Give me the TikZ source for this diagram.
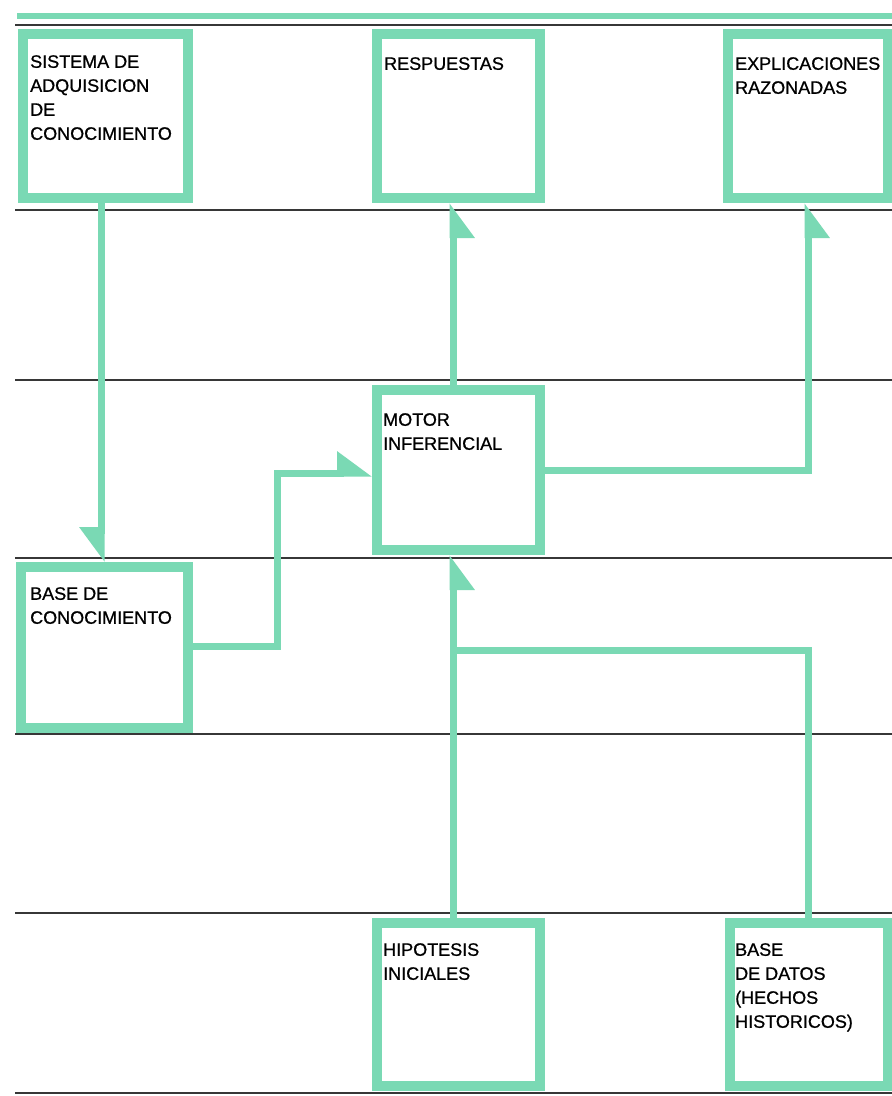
\documentclass[tikz,border=0pt]{standalone}
\usepackage{fontspec}
\setmainfont[FakeBold=0.8]{Liberation Sans}
\usetikzlibrary{arrows.meta,calc}
\definecolor{mint}{RGB}{122,217,180}
\definecolor{rulecol}{RGB}{55,55,55}
\begin{document}
\begin{tikzpicture}[x=1pt,y=-1pt,
  box/.style={draw=mint, line width=10pt, minimum width=163pt, minimum height=164pt, inner sep=0pt},
  lbl/.style={anchor=north west, inner sep=0pt, align=left, font=\fontsize{18}{24}\selectfont, text=black},
  conn/.style={draw=mint, line width=7pt, line join=miter},
  harr/.style={-{Triangle[harpoon, length=30pt, width=42pt]}},
  harrs/.style={-{Triangle[harpoon, swap, length=30pt, width=42pt]}},
  hrule/.style={draw=rulecol, line width=2pt}]
\useasboundingbox (0,0) rectangle (892,1096);
\fill[white] (0,0) rectangle (892,1096);
% horizontal rules
\foreach \yy in {25,210,380,558,734,913,1093} \draw[hrule] (15,\yy) -- (892,\yy);
\draw[mint, line width=6pt] (17,16) -- (892,16);
% boxes
\node[box, minimum width=165pt] (sis) at (105.5,116) {};
\node[box] (resp) at (458.5,116) {};
\node[box, minimum width=160pt] (expl) at (808,116) {};
\node[box, minimum height=160pt] (mot) at (458.5,470) {};
\node[box, minimum width=167pt, minimum height=161pt] (bk) at (104.5,647.5) {};
\node[box, minimum height=163pt] (hip) at (458.5,1004) {};
\node[box, minimum width=158pt, minimum height=163pt] (bd) at (809,1004) {};
% texts
\node[lbl] (sist) at (30,55) {SISTEMA DE\\ADQUISICION\\DE\\CONOCIMIENTO};
\node[lbl] (respt) at (384,57) {RESPUESTAS};
\node[lbl] (explt) at (735,57) {EXPLICACIONES\\RAZONADAS};
\node[lbl] (mott) at (383,413) {MOTOR\\INFERENCIAL};
\node[lbl] (bkt) at (30,587) {BASE DE\\CONOCIMIENTO};
\node[lbl] (hipt) at (383,943) {HIPOTESIS\\INICIALES};
\node[lbl] (bdt) at (735,943) {BASE\\DE DATOS\\(HECHOS\\HISTORICOS)};
% helper coordinates
\coordinate (cA) at (101,0);
\coordinate (cB) at (277,0);
\coordinate (cC) at (453,0);
\coordinate (cD) at (808,0);
\coordinate (rA) at (0,646);
\coordinate (rB) at (0,473);
\coordinate (rC) at (0,470);
\coordinate (rD) at (0,650);
% connectors
\draw[conn,harrs] (sis.south -| cA) -- (bk.north -| cA);
\draw[conn,harr] (bk.east |- rA) -- (cB |- rA) -- (cB |- rB) -- (mot.west |- rB);
\draw[conn,harrs] (mot.north -| cC) -- (resp.south -| cC);
\draw[conn,harrs] (mot.east |- rC) -- (cD |- rC) -- (expl.south -| cD);
\draw[conn,harrs] (hip.north -| cC) -- (mot.south -| cC);
\draw[conn] (bd.north -| cD) -- (cD |- rD) -- (cC |- rD);
\end{tikzpicture}
\end{document}
